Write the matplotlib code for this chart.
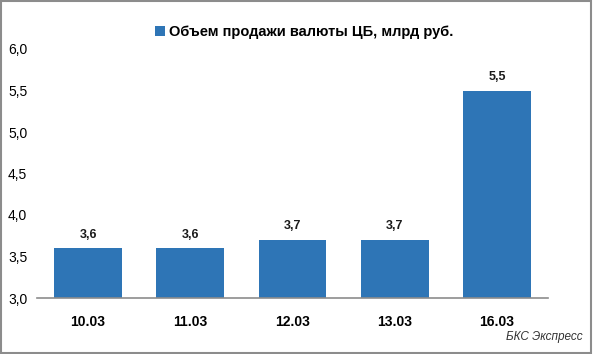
import matplotlib.pyplot as plt
from matplotlib.patches import Rectangle

dates = ['10.03', '11.03', '12.03', '13.03', '16.03']
volumes = [3.6, 3.6, 3.7, 3.7, 5.5]
y_ticks = [3.0, 3.5, 4.0, 4.5, 5.0, 5.5, 6.0]

bar_color = '#2E75B6'
plt.rcParams['font.family'] = ['Liberation Sans', 'DejaVu Sans']

fig = plt.figure(figsize=(5.93, 3.54), dpi=100)
ax = fig.add_axes([37 / 593, 56 / 354, 511 / 593, 249 / 354])

x = range(len(dates))
bars = ax.bar(x, volumes, width=0.665, color=bar_color, zorder=2,
              label='Объем продажи валюты ЦБ, млрд руб.')

# value labels above the bars
for xi, v in zip(x, volumes):
    ax.text(xi, v + 0.09, f'{v:.1f}'.replace('.', ','), ha='center', va='bottom',
            fontsize=9, fontweight='bold', color='#1a1a1a')

ax.set_ylim(3.0, 6.0)
ax.set_xlim(-0.5, len(dates) - 0.5)
ax.set_yticks(y_ticks)
ax.set_yticklabels([f'{t:.1f}'.replace('.', ',') for t in y_ticks], fontsize=10)
ax.set_xticks(list(x))
ax.set_xticklabels(dates, fontsize=10, fontweight='bold')
ax.tick_params(axis='both', length=0)
ax.tick_params(axis='y', pad=7)
ax.tick_params(axis='x', pad=12)

for side in ['top', 'right', 'left']:
    ax.spines[side].set_visible(False)
ax.spines['bottom'].set_color('#8c8c8c')
ax.spines['bottom'].set_linewidth(1.2)

leg = fig.legend(loc='center', bbox_to_anchor=(304 / 593, 1 - 32 / 354),
                 frameon=False, handlelength=0.7, handleheight=0.7,
                 handletextpad=0.3, prop={'weight': 'bold', 'size': 10.5})

fig.text(583 / 593, 1 - 337 / 354, 'БКС Экспресс', ha='right', va='center',
         fontsize=8.5, style='italic', color='#333333')

# outer frame
fig.patches.append(Rectangle((0.002, 0.003), 0.995, 0.994, transform=fig.transFigure,
                             fill=False, edgecolor='#8c8c8c', linewidth=1.5))

fig.savefig('out.png', dpi=100)
